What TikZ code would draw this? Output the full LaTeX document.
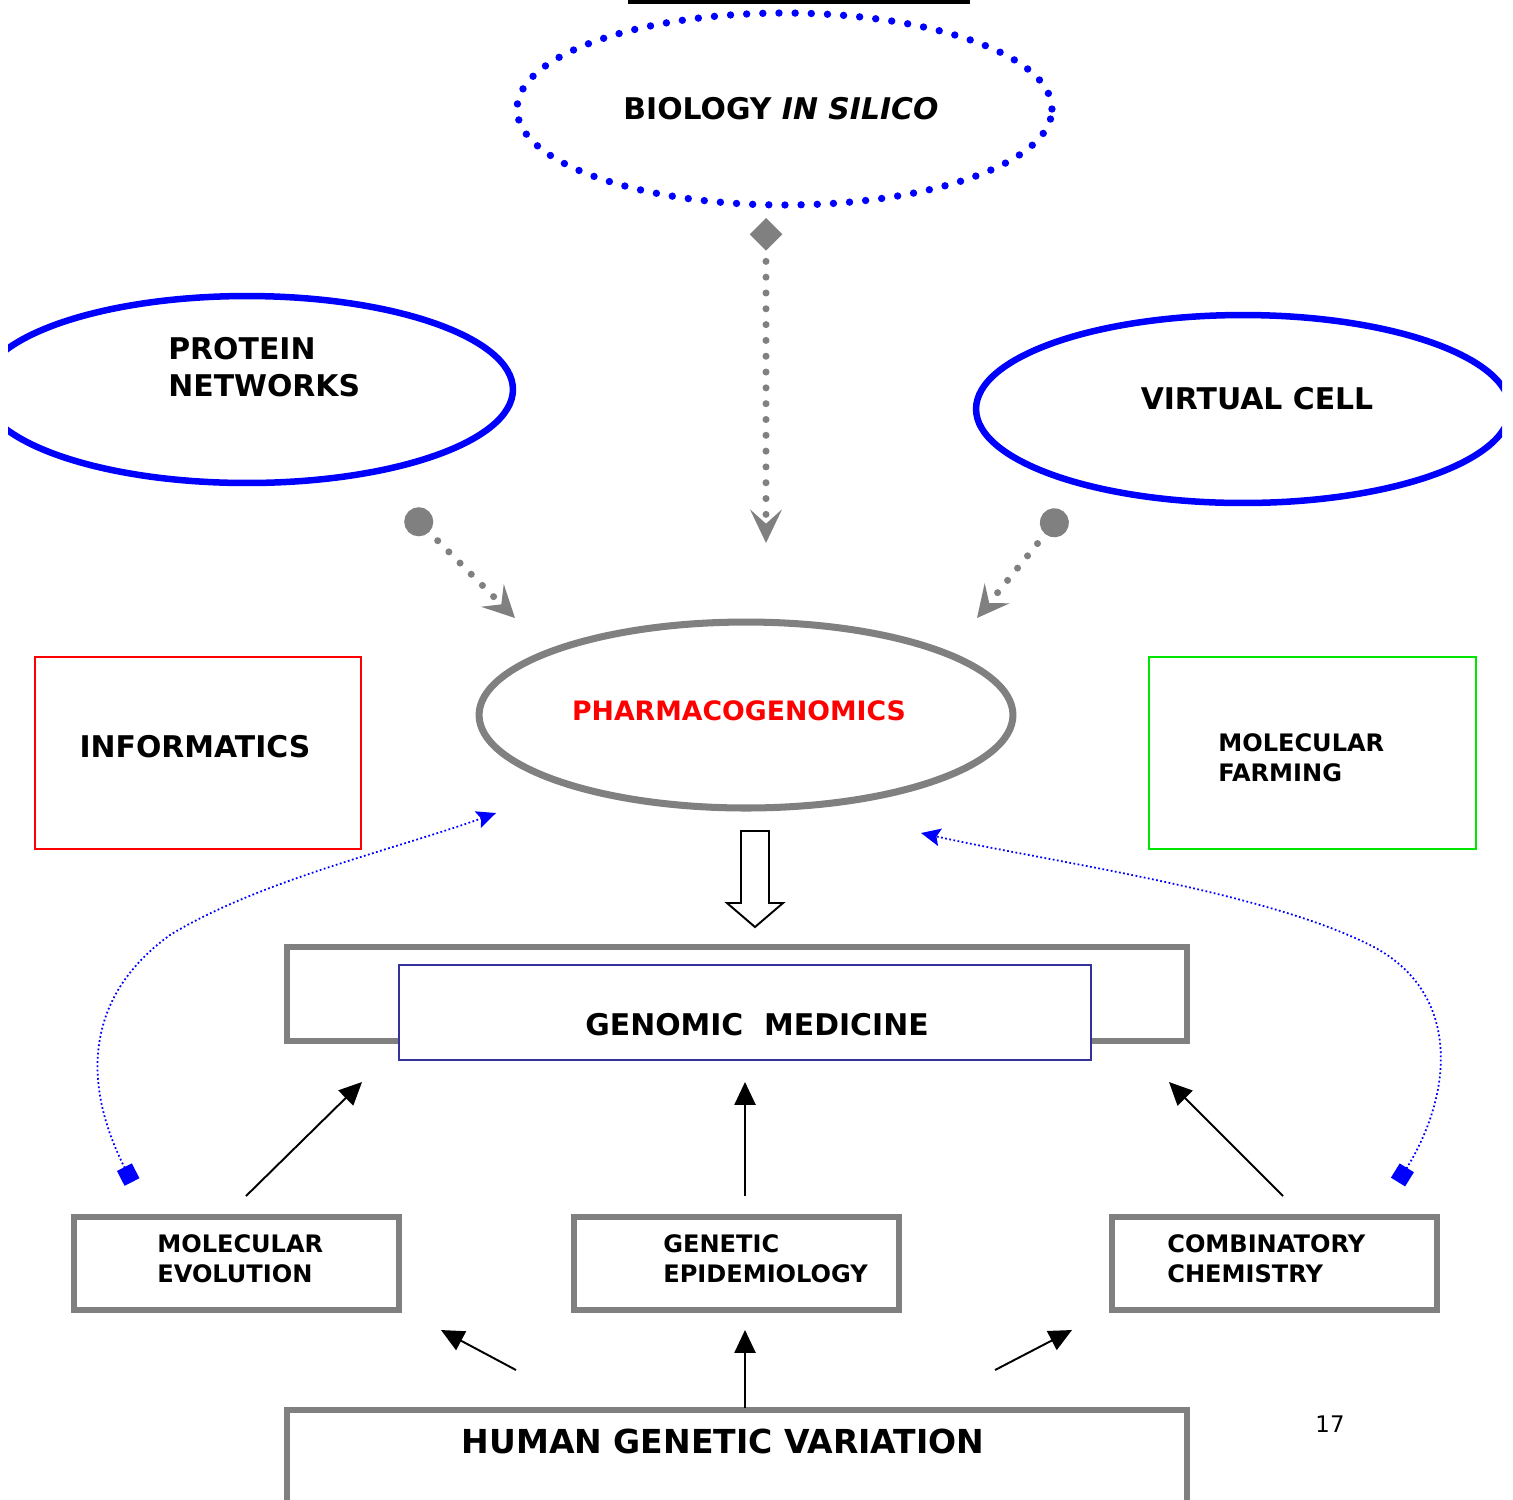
\documentclass[tikz,border=0pt]{standalone}
\usepackage{fontspec}
\setmainfont{DejaVu Sans}
\usetikzlibrary{shapes.geometric,arrows.meta}
\definecolor{mygrey}{RGB}{128,128,128}
\definecolor{mynavy}{RGB}{51,51,153}
\definecolor{mygreen}{RGB}{0,230,0}
\tikzset{
  bigtxt/.style={inner sep=0pt,font=\fontsize{17pt}{21pt}\selectfont\bfseries},
  smalltxt/.style={inner sep=0pt,align=left,font=\fontsize{13.7pt}{17pt}\selectfont\bfseries},
  blueoval/.style={ellipse,draw=blue,line width=3.7pt,inner sep=0pt},
  greyoval/.style={ellipse,draw=mygrey,line width=4pt,inner sep=0pt},
  greybox/.style={rectangle,draw=mygrey,line width=3.6pt,inner sep=0pt},
  greydots/.style={draw=mygrey,line width=4pt,line cap=round,dash pattern=on 0pt off 9pt},
  bluedots/.style={draw=blue,line width=1pt,dash pattern=on 1pt off 1.4pt},
  blackarrow/.style={draw=black,line width=1.1pt,-{Triangle[length=13pt,width=12pt]}},
}
\begin{document}
\begin{tikzpicture}[x=0.02cm,y=-0.02cm]
\useasboundingbox (0,0) rectangle (1513,1499);
% top bar
\fill[black] (628,-1) rectangle (970,3.5);
\begin{scope}
\clip (8,0) rectangle (1502,1499);
% biology in silico
\node[ellipse,draw=blue,line width=4.2pt,line cap=round,dash pattern=on 0pt off 9.2pt,
  minimum width=10.7cm,minimum height=3.84cm,inner sep=0pt] (bio) at (784.5,109) {};
\node[bigtxt] (biotxt) at (781,109) {BIOLOGY \textit{IN SILICO}};
% protein networks
\node[blueoval,minimum width=10.64cm,minimum height=3.74cm] (prot) at (247,389.5) {};
\node[bigtxt,align=left,anchor=west] (prottxt) at (168,367) {PROTEIN\\NETWORKS};
% virtual cell
\node[blueoval,minimum width=10.68cm,minimum height=3.76cm] (vc) at (1243,409) {};
\node[bigtxt] (vctxt) at (1257,399) {VIRTUAL CELL};
\end{scope}
% pharmacogenomics
\node[greyoval,minimum width=10.68cm,minimum height=3.72cm] (ph) at (746,715) {};
\node[inner sep=0pt,text=red,font=\fontsize{15.2pt}{18pt}\selectfont\bfseries] (phtxt) at (739,711) {PHARMACOGENOMICS};
% grey dotted connectors
\coordinate (a1) at (766,218);
\coordinate (a2) at (766,543);
\draw[greydots,{Diamond[length=18.5pt,width=18.5pt,fill=mygrey,color=mygrey]}-{Stealth[length=19pt,width=18pt,inset=8pt,fill=mygrey,color=mygrey]}] (a1) -- (a2);
\coordinate (b1) at (408.5,511.5);
\coordinate (b2) at (515,618);
\draw[greydots,{Circle[length=16.5pt,fill=mygrey,color=mygrey]}-{Stealth[length=18pt,width=18pt,inset=7pt,fill=mygrey,color=mygrey]}] (b1) -- (b2);
\coordinate (c1) at (1063.5,511.5);
\coordinate (c2) at (977,618);
\draw[greydots,{Circle[length=16.5pt,fill=mygrey,color=mygrey]}-{Stealth[length=18pt,width=18pt,inset=7pt,fill=mygrey,color=mygrey]}] (c1) -- (c2);
% informatics
\node[rectangle,draw=red,line width=0.7pt,minimum width=6.52cm,minimum height=3.84cm,inner sep=0pt] (inf) at (198,753) {};
\node[bigtxt] (inftxt) at (195,747) {INFORMATICS};
% molecular farming
\node[rectangle,draw=mygreen,line width=0.7pt,minimum width=6.54cm,minimum height=3.84cm,inner sep=0pt] (mf) at (1312.5,753) {};
\node[smalltxt,anchor=west] (mftxt) at (1218,758) {MOLECULAR\\FARMING};
% hollow arrow
\draw[black,line width=1.1pt,fill=white,line join=miter] (741,831) -- (769,831) -- (769,903) -- (783,903) -- (755,927) -- (727,903) -- (741,903) -- cycle;
% genomic medicine
\node[greybox,minimum width=18cm,minimum height=1.88cm] (gm) at (737,994) {};
\node[rectangle,draw=mynavy,fill=white,line width=0.8pt,minimum width=13.84cm,minimum height=1.9cm,inner sep=0pt] (gmin) at (745,1012.5) {};
\node[bigtxt] (gmtxt) at (757,1025) {GENOMIC~~MEDICINE};
% lower boxes
\node[greybox,minimum width=6.5cm,minimum height=1.86cm] (me) at (236.5,1263.5) {};
\node[smalltxt,anchor=west] (metxt) at (157,1259) {MOLECULAR\\EVOLUTION};
\node[greybox,minimum width=6.5cm,minimum height=1.86cm] (ge) at (736.5,1263.5) {};
\node[smalltxt,anchor=west] (getxt) at (663,1259) {GENETIC\\EPIDEMIOLOGY};
\node[greybox,minimum width=6.5cm,minimum height=1.86cm] (cc) at (1274.5,1263.5) {};
\node[smalltxt,anchor=west] (cctxt) at (1167,1259) {COMBINATORY\\CHEMISTRY};
% arrows up to genomic medicine
\coordinate (d1) at (246,1196); \coordinate (d2) at (362,1082);
\coordinate (e1) at (745,1196); \coordinate (e2) at (745,1082);
\coordinate (f1) at (1283,1196); \coordinate (f2) at (1169,1082);
\draw[blackarrow] (d1) -- (d2);
\draw[blackarrow] (e1) -- (e2);
\draw[blackarrow] (f1) -- (f2);
% human genetic variation
\draw[mygrey,line width=3.6pt] (287,1520) -- (287,1410) -- (1187,1410) -- (1187,1520);
\coordinate (hgv) at (737,1410);
\node[inner sep=0pt,font=\fontsize{18.8pt}{22pt}\selectfont\bfseries] (hgvtxt) at (723,1441) {HUMAN GENETIC VARIATION};
\coordinate (g1) at (516,1370); \coordinate (g2) at (441,1330);
\coordinate (h1) at (745,1408); \coordinate (h2) at (745,1330);
\coordinate (i1) at (995,1370); \coordinate (i2) at (1072,1330);
\draw[blackarrow] (g1) -- (g2);
\draw[blackarrow] (h1) -- (h2);
\draw[blackarrow] (i1) -- (i2);
% blue dotted curves
\coordinate (j1) at (132,1182); \coordinate (j2) at (496,813);
\draw[bluedots,{Square[length=9.5pt,fill=blue,color=blue]}-{Stealth[length=11pt,width=10pt,inset=2pt,fill=blue,color=blue]}]
  (j1) .. controls (85,1090) and (80,1000) .. (170,935) .. controls (260,880) and (400,848) .. (j2);
\coordinate (k1) at (1398,1182); \coordinate (k2) at (921,833);
\draw[bluedots,{Square[length=9.5pt,fill=blue,color=blue]}-{Stealth[length=11pt,width=10pt,inset=2pt,fill=blue,color=blue]}]
  (k1) .. controls (1455,1090) and (1460,990) .. (1370,945) .. controls (1260,890) and (1050,862) .. (k2);
% page number
\node[inner sep=0pt,font=\fontsize{13pt}{15pt}\selectfont] (pn) at (1330,1424) {17};
\end{tikzpicture}
\end{document}
